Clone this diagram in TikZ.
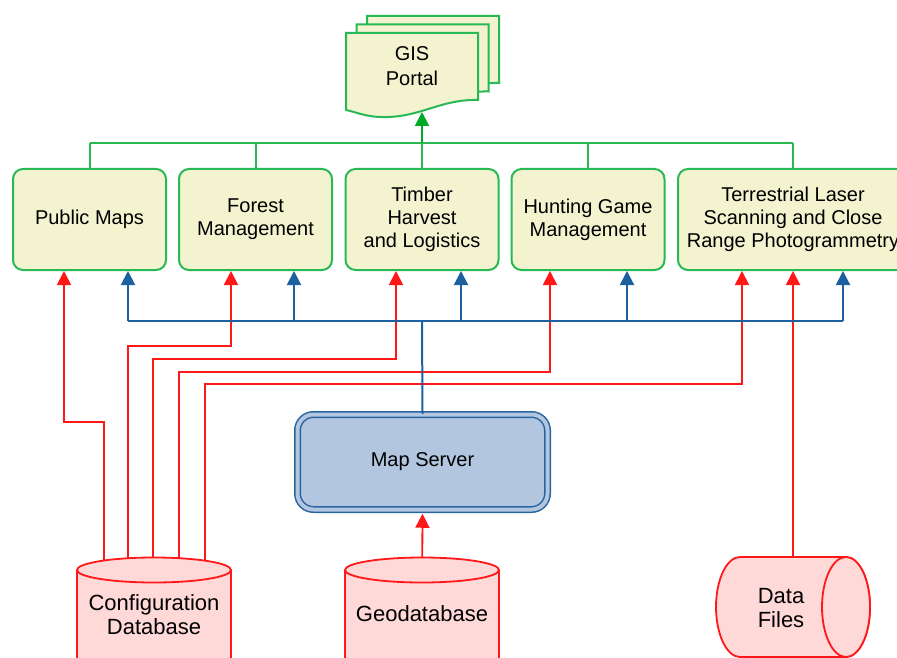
\documentclass[tikz,border=0pt]{standalone}
\usepackage{fontspec}
\setmainfont{Liberation Sans}
\usetikzlibrary{arrows.meta,calc,positioning}
\definecolor{appfill}{RGB}{243,243,208}
\definecolor{appgreen}{RGB}{40,184,84}
\definecolor{tipgreen}{RGB}{0,168,40}
\definecolor{linered}{RGB}{255,24,24}
\definecolor{dbfill}{RGB}{255,216,216}
\definecolor{lineblue}{RGB}{28,96,160}
\definecolor{msfill}{RGB}{178,198,224}
\definecolor{msblue}{RGB}{40,100,160}

\begin{document}
\begin{tikzpicture}[x=0.5pt,y=-0.5pt,>={Triangle[length=7pt,width=7pt]}]
\fontsize{10}{11.5}\selectfont
\tikzstyle{app}=[draw=appgreen, fill=appfill, line width=1pt, rounded corners=5pt, minimum width=76.5pt, minimum height=50.5pt, align=center, inner sep=1pt]
\tikzstyle{tree}=[draw=appgreen, line width=1pt]
\tikzstyle{feed}=[->, draw=linered, line width=0.9pt]
\tikzstyle{link}=[draw=lineblue, line width=1pt]
\tikzstyle{dbase}=[draw=linered, fill=dbfill, line width=0.9pt]
\tikzstyle{dbtext}=[align=center, font=\fontsize{11}{12}\selectfont]
\path[use as bounding box] (0,0) rectangle (897,657);
\clip (0,0) rectangle (897,657);

% applications
\foreach \n/\x/\t in {1/89.5/{Public Maps}, 2/255.5/{Forest\\Management}, 3/422/{Timber\\Harvest\\and Logistics}, 4/588/{Hunting Game\\Management}}
    \node[app] (a\n) at (\x,219.5) {\t};
\node[app, minimum width=115pt] (a5) at (793,219.5) {Terrestrial Laser\\Scanning and Close\\Range Photogrammetry};

% portal
\foreach \i in {2,1,0}
    \filldraw[draw=appgreen, fill=appfill, line width=1pt, shift={({\i*10.5},{-\i*8.5})}]
        (346,33) -- (478,33) -- (478,100) .. controls (440,99) and (420,118) .. (382,117)
        .. controls (366,117) and (356,112) .. (346,110) -- cycle;
\node[align=center, font=\fontsize{10}{12.5}\selectfont] (portal) at (412,66) {GIS\\Portal};
\coordinate (portalin) at (422,112);

% map server
\node[draw=msblue, double=msfill, double distance=2pt, line width=0.75pt, fill=msfill, rounded corners=8pt, minimum width=125pt, minimum height=47.5pt] (ms) at (422.5,462) {Map Server};

% green tree up to the portal
\coordinate (hub) at (422,143);
\foreach \n in {1,...,5}
    \draw[tree] (a\n.north) -- (a\n.north |- hub);
\draw[tree] (a1.north |- hub) -- (a5.north |- hub);
\draw[->, draw=tipgreen, line width=1pt] (hub) -- (portalin);

% stores
\coordinate (cfgc) at (154,615);
\coordinate (geoc) at (422,614);
\coordinate (filesc) at (781,608);

% red feeds
\foreach \n/\dx/\c/\y in {1/-25.5/-50/151, 2/-24.5/-26/75, 3/-26/-1/88, 4/-38/25/101, 5/-51/51/113}
    \draw[feed] ($(cfgc)+(\c,0)$) |- ($(a\n.south)+(\dx,\y)$) -- ($(a\n.south)+(\dx,0)$);
\draw[feed, shorten >=1.75pt] (geoc) -- (ms.south);
\draw[feed] (a5.south |- filesc) -- (a5.south);

% blue bus from the map server
\coordinate (bus) at (422,320);
\draw[link] (ms.north) -- (bus);
\draw[link] ($(a1.south)+(38.5,50)$) -- ($(a5.south)+(50,50)$);
\foreach \n/\d in {1/38.5,2/38.5,3/39,4/39,5/50}
    \draw[link,->] ($(a\n.south)+(\d,50)$) -- ($(a\n.south)+(\d,0)$);

% cylinders
\filldraw[dbase] (77,570) -- (77,690) arc[start angle=180,end angle=360,x radius=38.5pt,y radius=6.25pt] -- (231,570);
\filldraw[dbase] (154,570) ellipse[x radius=38.5pt,y radius=6.25pt];
\filldraw[dbase] (345,570) -- (345,690) arc[start angle=180,end angle=360,x radius=38.5pt,y radius=6.25pt] -- (499,570);
\filldraw[dbase] (422,570) ellipse[x radius=38.5pt,y radius=6.25pt];
\filldraw[dbase] (740,557) -- (846,557) arc[start angle=90,end angle=-90,x radius=12pt,y radius=25pt]
    -- (740,657) arc[start angle=270,end angle=90,x radius=12pt,y radius=25pt] -- cycle;
\filldraw[dbase] (846,607) ellipse[x radius=12pt,y radius=25pt];
\node[dbtext] (cfg) at (cfgc) {Configuration\\Database};
\node[dbtext] (geo) at (geoc) {Geodatabase};
\node[dbtext] (files) at (filesc) {Data\\Files};
\end{tikzpicture}
\end{document}
